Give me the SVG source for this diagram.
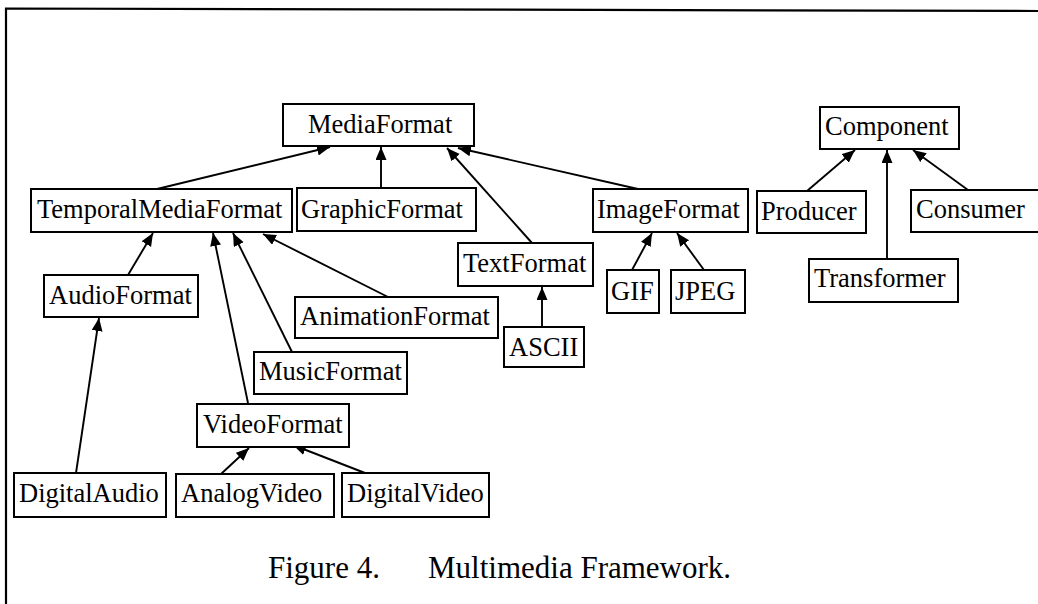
<svg xmlns="http://www.w3.org/2000/svg" width="1038" height="604" viewBox="0 0 1038 604">
  <style>
    .box { fill: #fff; stroke: #000; stroke-width: 2; }
    .lbl { font-family: "Liberation Serif", "Times New Roman", serif; font-size: 26.5px; fill: #000; }
    .edge { stroke: #000; stroke-width: 1.9; fill: none; marker-end: url(#tip); }
    .cap { font-family: "Liberation Serif", "Times New Roman", serif; font-size: 31px; fill: #000; }
  </style>
  <defs>
    <marker id="tip" markerUnits="userSpaceOnUse" markerWidth="14" markerHeight="12" refX="13" refY="5.5" orient="auto">
      <path d="M0,0 L13,5.5 L0,11 z" fill="#000"/>
    </marker>
  </defs>
  <rect width="1038" height="604" fill="#fff"/>
  <!-- outer frame: left and top edges -->
  <path d="M6,604 V8.5 L1038,11" fill="none" stroke="#000" stroke-width="2.2"/>

  <g id="connectors">
    <line class="edge" x1="157" y1="189" x2="330" y2="147"/>
    <line class="edge" x1="381" y1="188" x2="381" y2="147"/>
    <line class="edge" x1="532" y1="243" x2="447" y2="148"/>
    <line class="edge" x1="638" y1="189" x2="458" y2="148"/>
    <line class="edge" x1="128" y1="275" x2="153" y2="233"/>
    <line class="edge" x1="248" y1="403" x2="213" y2="233"/>
    <line class="edge" x1="292" y1="352" x2="233" y2="233"/>
    <line class="edge" x1="388" y1="297" x2="263" y2="234"/>
    <line class="edge" x1="76" y1="473" x2="99" y2="318"/>
    <line class="edge" x1="221" y1="474" x2="249" y2="448"/>
    <line class="edge" x1="365" y1="473" x2="293" y2="445"/>
    <line class="edge" x1="542" y1="327" x2="542" y2="287"/>
    <line class="edge" x1="632" y1="270" x2="652" y2="233"/>
    <line class="edge" x1="704" y1="270" x2="677" y2="233"/>
    <line class="edge" x1="807" y1="191" x2="855" y2="150"/>
    <line class="edge" x1="887" y1="259" x2="887" y2="150"/>
    <line class="edge" x1="968" y1="190" x2="913" y2="150"/>
  </g>

  <g id="MediaFormat"><rect class="box" x="283" y="104" width="191" height="42"/><text class="lbl" x="308" y="133">MediaFormat</text></g>
  <g id="TemporalMediaFormat"><rect class="box" x="31" y="189" width="261" height="43"/><text class="lbl" x="37" y="218">TemporalMediaFormat</text></g>
  <g id="GraphicFormat"><rect class="box" x="297" y="188" width="179" height="43"/><text class="lbl" x="301" y="218">GraphicFormat</text></g>
  <g id="TextFormat"><rect class="box" x="458" y="243" width="135" height="43"/><text class="lbl" x="463" y="272">TextFormat</text></g>
  <g id="ImageFormat"><rect class="box" x="593" y="189" width="155" height="43"/><text class="lbl" x="597" y="218">ImageFormat</text></g>
  <g id="Component"><rect class="box" x="820" y="107" width="139" height="42"/><text class="lbl" x="825" y="135">Component</text></g>
  <g id="Producer"><rect class="box" x="757" y="191" width="109" height="42"/><text class="lbl" x="761" y="220">Producer</text></g>
  <g id="Consumer"><rect class="box" x="911" y="190" width="140" height="42"/><text class="lbl" x="916" y="218">Consumer</text></g>
  <g id="Transformer"><rect class="box" x="809" y="259" width="149" height="43"/><text class="lbl" x="814" y="287">Transformer</text></g>
  <g id="AudioFormat"><rect class="box" x="44" y="275" width="154" height="42"/><text class="lbl" x="49" y="304">AudioFormat</text></g>
  <g id="AnimationFormat"><rect class="box" x="295" y="297" width="203" height="41"/><text class="lbl" x="300" y="325">AnimationFormat</text></g>
  <g id="GIF"><rect class="box" x="607" y="270" width="52" height="43"/><text class="lbl" x="611" y="300">GIF</text></g>
  <g id="JPEG"><rect class="box" x="671" y="270" width="74" height="43"/><text class="lbl" x="675" y="300">JPEG</text></g>
  <g id="ASCII"><rect class="box" x="504" y="327" width="80" height="40"/><text class="lbl" x="509" y="356">ASCII</text></g>
  <g id="MusicFormat"><rect class="box" x="254" y="352" width="153" height="42"/><text class="lbl" x="259" y="380">MusicFormat</text></g>
  <g id="VideoFormat"><rect class="box" x="197" y="404" width="152" height="43"/><text class="lbl" x="203" y="433">VideoFormat</text></g>
  <g id="DigitalAudio"><rect class="box" x="14" y="473" width="152" height="44"/><text class="lbl" x="19" y="502">DigitalAudio</text></g>
  <g id="AnalogVideo"><rect class="box" x="176" y="474" width="158" height="43"/><text class="lbl" x="181" y="502">AnalogVideo</text></g>
  <g id="DigitalVideo"><rect class="box" x="342" y="473" width="147" height="44"/><text class="lbl" x="347" y="502">DigitalVideo</text></g>

  <g id="caption">
    <text class="cap" x="268" y="578">Figure 4.</text>
    <text class="cap" x="428" y="578">Multimedia Framework.</text>
  </g>
</svg>
